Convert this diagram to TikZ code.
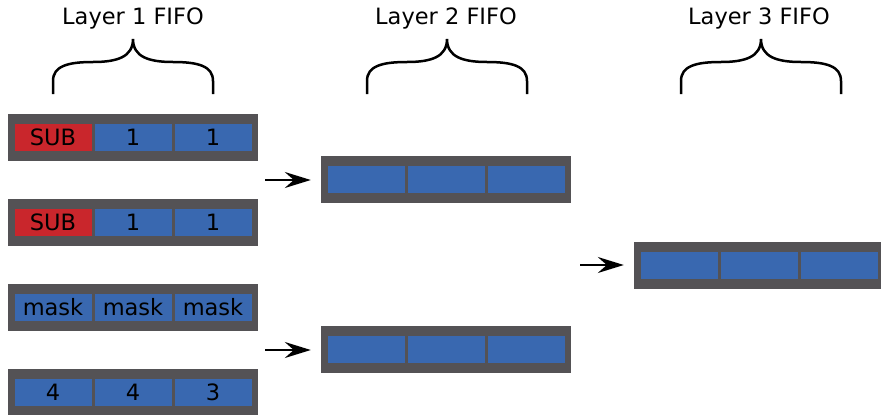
\documentclass[tikz,border=0pt]{standalone}
\usepackage{fontspec}
\setmainfont{DejaVu Sans}
\usetikzlibrary{arrows.meta}
\definecolor{fifogrey}{RGB}{84,82,85}
\definecolor{cellblue}{RGB}{57,104,176}
\definecolor{subred}{RGB}{201,38,44}
\def\fifobrace{-- ++(0,-13) .. controls +(0,-15) and +(-25,0) .. ++(40,-19)
  .. controls +(24,0) and +(0,18) .. ++(40,-23)
  .. controls +(0,18) and +(-24,0) .. ++(40,23)
  .. controls +(25,0) and +(0,-15) .. ++(40,19) -- ++(0,13)}
\def\dbrace{\draw[line width=2.5pt]}
\tikzset{
  fifo/.style={fill=fifogrey,minimum width=250,minimum height=47,inner sep=0},
  cell/.style={fill=cellblue,minimum width=77,minimum height=27,inner sep=0},
  feed/.style={line width=2pt,-{Stealth[length=26pt,width=16pt,inset=9pt]},shorten >=10pt}
}
\begin{document}
\begin{tikzpicture}[x=1pt,y=-1pt,font=\fontsize{22.5}{27}\selectfont]
  \useasboundingbox (0,0) rectangle (881,415);
  % layer 1
  \foreach \n/\y/\col/\a/\b/\c in {r1/137.5/subred/SUB/1/1, r2/222.5/subred/SUB/1/1,
      r3/307.5/cellblue/mask/mask/mask, r4/392.5/cellblue/4/4/3}{
    \node[fifo] (\n) at (133,\y) {};
    \node[cell,fill=\col] (\n-1) at ([xshift=-80]\n.center) {\a};
    \node[cell] (\n-2) at (\n.center) {\b};
    \node[cell] (\n-3) at ([xshift=80]\n.center) {\c};
  }
  % layers 2 and 3
  \foreach \n/\x/\y in {s1/446/179.5, s2/446/349.5, t1/759/265}{
    \node[fifo] (\n) at (\x,\y) {};
    \node[cell] (\n-1) at ([xshift=-80]\n.center) {};
    \node[cell] (\n-2) at (\n.center) {};
    \node[cell] (\n-3) at ([xshift=80]\n.center) {};
  }
  \coordinate (in1) at (265,180);
  \coordinate (in2) at (265,350);
  \coordinate (in3) at (580,265);
  \draw[feed] (in1) -- (in1 -| s1.west);
  \draw[feed] (in2) -- (in2 -| s2.west);
  \draw[feed] (in3) -- (in3 -| t1.west);
  % braces and titles
  \dbrace (53,94) \fifobrace;
  \dbrace (367,94) \fifobrace;
  \dbrace (681,94) \fifobrace;
  \node (title1) at (133,18) {Layer 1 FIFO};
  \node (title2) at (446,18) {Layer 2 FIFO};
  \node (title3) at (759,18) {Layer 3 FIFO};
\end{tikzpicture}
\end{document}
